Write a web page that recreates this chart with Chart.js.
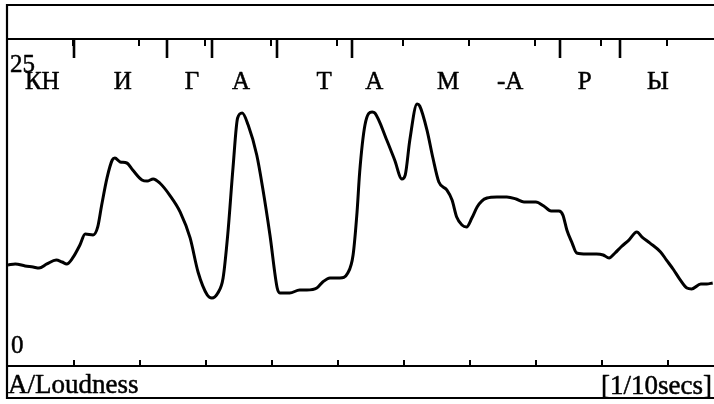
<!DOCTYPE html>
<html>
<head>
<meta charset="utf-8">
<script src="https://cdn.jsdelivr.net/npm/chart.js@4/dist/chart.umd.min.js"></script>
<style>
  html, body { margin: 0; padding: 0; background: #fff; }
  #wrap { width: 714px; height: 404px; position: relative; }
</style>
</head>
<body>
<div id="wrap"><canvas id="c" width="714" height="404"></canvas></div>
<script>
// Time in 1/10 seconds
const timeTenths = [
  0.00, 0.11, 0.26, 0.38, 0.47, 0.59, 0.73, 0.82, 0.89, 0.98,
  1.09, 1.17, 1.29, 1.36, 1.42, 1.50, 1.58, 1.62, 1.70, 1.80,
  1.89, 2.03, 2.11, 2.20, 2.30, 2.45, 2.61, 2.76, 2.88, 3.02,
  3.09, 3.18, 3.26, 3.33, 3.41, 3.48, 3.55, 3.64, 3.77, 3.86,
  3.97, 4.08, 4.12, 4.27, 4.42, 4.53, 4.68, 4.77, 4.88, 5.03,
  5.15, 5.23, 5.29, 5.33, 5.41, 5.52, 5.56, 5.74, 5.86, 5.97,
  6.02, 6.09, 6.20, 6.24, 6.35, 6.44, 6.53, 6.65, 6.73, 6.80,
  6.88, 6.95, 7.03, 7.11, 7.18, 7.26, 7.41, 7.56, 7.70, 7.82,
  8.00, 8.12, 8.23, 8.35, 8.41, 8.47, 8.55, 8.62, 8.77, 8.92,
  9.02, 9.11, 9.20, 9.29, 9.41, 9.53, 9.61, 9.73, 9.89, 9.98,
  10.09, 10.18, 10.29, 10.36, 10.50, 10.59, 10.68
];
// Loudness values
const loudness = [
  7.72, 7.80, 7.65, 7.57, 7.49, 7.80, 8.10, 7.95, 7.80, 8.26,
  9.25, 10.09, 10.02, 10.63, 12.31, 14.37, 15.75, 15.90, 15.60, 15.52,
  14.98, 14.22, 14.14, 14.30, 13.99, 13.07, 11.77, 9.79, 7.19, 5.43,
  5.20, 5.58, 6.73, 10.02, 15.14, 18.96, 19.34, 18.42, 16.13, 13.61,
  10.02, 5.96, 5.58, 5.58, 5.81, 5.81, 5.96, 6.42, 6.73, 6.73,
  7.11, 8.49, 11.77, 14.83, 18.42, 19.42, 19.34, 17.28, 15.75, 14.30,
  14.60, 17.28, 20.03, 19.88, 18.04, 15.90, 14.07, 13.46, 12.69, 11.39,
  10.78, 10.63, 11.31, 12.16, 12.61, 12.84, 12.92, 12.92, 12.77, 12.54,
  12.54, 12.23, 11.85, 11.85, 11.54, 10.40, 9.40, 8.64, 8.56, 8.56,
  8.49, 8.26, 8.64, 9.10, 9.63, 10.24, 9.86, 9.40, 8.72, 8.10,
  7.34, 6.65, 5.96, 5.89, 6.27, 6.27, 6.35
];
// Regular time ticks (1/10 s)
const timeTicks = [1, 2, 3, 4, 5, 6, 7, 8, 9, 10];
// Segment boundaries (1/10 s)
const segmentBounds = [1.00, 2.41, 3.09, 4.08, 5.21, 8.36, 9.27];
// Phoneme labels and their times
const phonemes = ['КН', 'И', 'Г', 'А', 'Т', 'А', 'М', '-А', 'Р', 'Ы'];
const phonemeTimes = [0.52, 1.74, 2.79, 3.53, 4.79, 5.55, 6.67, 7.61, 8.74, 9.85];
// Y axis labels
const yTop = 25, yBottom = 0;
const yLabelName = 'A/Loudness';
const xUnitName = '[1/10secs]';

const FONT = '"Liberation Serif", "DejaVu Serif", serif';

function heavyText(ctx, txt, x, y) {
  ctx.fillText(txt, x, y);
  ctx.strokeText(txt, x, y);
}

const framePlugin = {
  id: 'frame',
  afterDraw(chart) {
    const ctx = chart.ctx;
    const a = chart.chartArea;
    const xs = chart.scales.x;
    const W = chart.width;
    ctx.save();
    ctx.strokeStyle = '#000';
    ctx.fillStyle = '#000';
    ctx.lineWidth = 2.2;
    ctx.lineCap = 'butt';
    // top border
    ctx.beginPath(); ctx.moveTo(a.left - 1, 5); ctx.lineTo(W, 5); ctx.stroke();
    // plot top line
    ctx.beginPath(); ctx.moveTo(a.left - 1, a.top); ctx.lineTo(W, a.top); ctx.stroke();
    // plot bottom line
    ctx.beginPath(); ctx.moveTo(a.left - 1, a.bottom); ctx.lineTo(W, a.bottom); ctx.stroke();
    // bottom border
    ctx.beginPath(); ctx.moveTo(a.left - 1, 398); ctx.lineTo(W, 398); ctx.stroke();
    // left border
    ctx.beginPath(); ctx.moveTo(a.left - 1, 4); ctx.lineTo(a.left - 1, 399); ctx.stroke();

    // regular ticks top (short) and bottom (upward)
    ctx.lineWidth = 2;
    timeTicks.forEach(t => {
      const px = Math.round(xs.getPixelForValue(t));
      ctx.beginPath(); ctx.moveTo(px - 1, a.top); ctx.lineTo(px - 1, a.top + 7); ctx.stroke();
      ctx.beginPath(); ctx.moveTo(px, a.bottom); ctx.lineTo(px, a.bottom - 6); ctx.stroke();
    });
    // segment boundaries (long ticks at top)
    ctx.lineWidth = 2.6;
    segmentBounds.forEach(t => {
      const px = Math.round(xs.getPixelForValue(t));
      ctx.beginPath(); ctx.moveTo(px, a.top); ctx.lineTo(px, a.top + 19); ctx.stroke();
    });

    ctx.lineWidth = 0.5;
    ctx.lineJoin = 'round';
    // phoneme labels
    ctx.font = '25px ' + FONT;
    ctx.textAlign = 'center';
    ctx.textBaseline = 'alphabetic';
    phonemes.forEach((p, i) => {
      heavyText(ctx, p, xs.getPixelForValue(phonemeTimes[i]), 89);
    });

    // y labels
    ctx.textAlign = 'left';
    ctx.font = '25px ' + FONT;
    heavyText(ctx, String(yTop), a.left + 2, 72);
    heavyText(ctx, String(yBottom), a.left + 3, 353);

    // bottom texts
    ctx.font = '27px ' + FONT;
    ctx.textAlign = 'left';
    heavyText(ctx, yLabelName, a.left, 393);
    ctx.textAlign = 'right';
    heavyText(ctx, xUnitName, W - 2, 394);
    ctx.restore();
  }
};

new Chart(document.getElementById('c'), {
  type: 'line',
  data: {
    datasets: [{
      data: timeTenths.map((t, i) => ({ x: t, y: loudness[i] })),
      borderColor: '#000',
      borderWidth: 3,
      pointRadius: 0,
      tension: 0.4,
      cubicInterpolationMode: 'monotone',
      fill: false
    }]
  },
  options: {
    responsive: false,
    animation: false,
    devicePixelRatio: 1,
    layout: { padding: { left: 8, right: 0, top: 39, bottom: 38 } },
    plugins: { legend: { display: false }, tooltip: { enabled: false }, title: { display: false } },
    scales: {
      x: { type: 'linear', min: 0, max: 10.7, display: false },
      y: { type: 'linear', min: yBottom, max: yTop, display: false }
    }
  },
  plugins: [framePlugin]
});
</script>
</body>
</html>
